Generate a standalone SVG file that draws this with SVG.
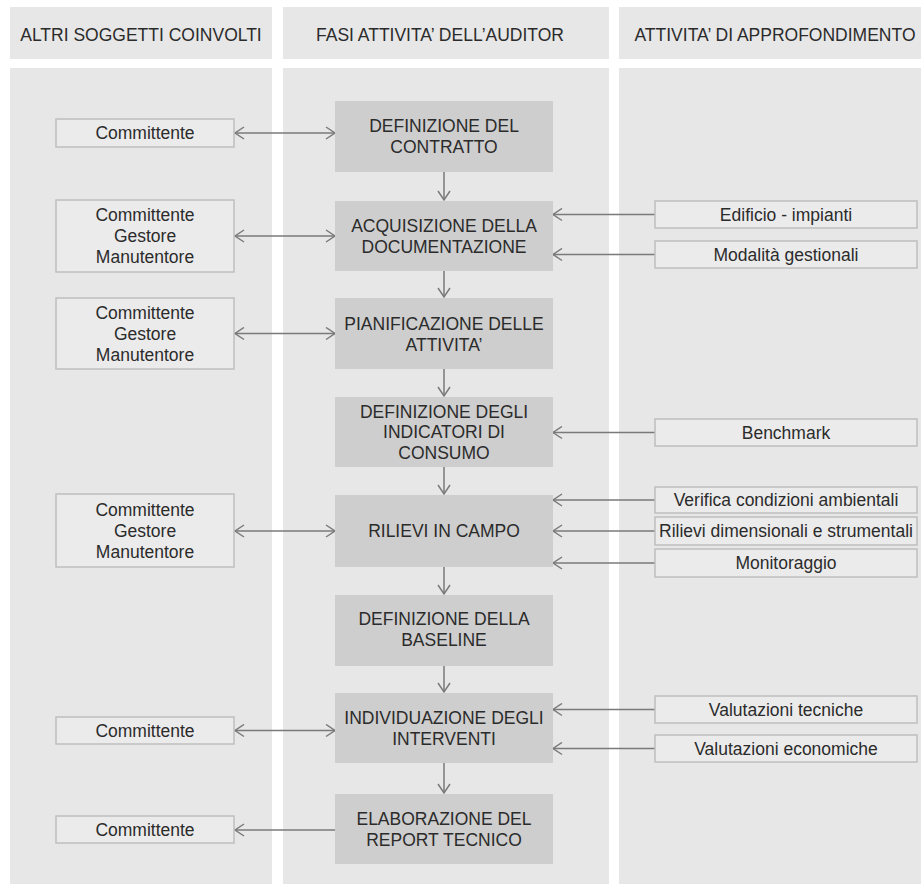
<svg xmlns="http://www.w3.org/2000/svg" width="923" height="886" viewBox="0 0 923 886">
<style>
text{font-family:"Liberation Sans",Arial,sans-serif;font-size:17.5px;fill:#2b2b2b;text-anchor:middle}
.panel{fill:#e7e7e7}
.node{fill:#cecece}
.box{fill:#ebebeb;stroke:#bfbfbf;stroke-width:1.5}
.con{stroke:#7a7a7a;stroke-width:1.5;fill:none}
</style>
<defs>
<marker id="ah" markerWidth="12" markerHeight="14" refX="10" refY="7" orient="auto-start-reverse" markerUnits="userSpaceOnUse">
<path d="M1,1 L10,7 L1,13" fill="none" stroke="#7a7a7a" stroke-width="1.5"/>
</marker>
</defs>
<rect width="923" height="886" fill="#ffffff"/>
<g id="headers">
<rect class="panel" x="10" y="7" width="262" height="52"/>
<rect class="panel" x="283" y="7" width="326" height="52"/>
<rect class="panel" x="619" y="7" width="302" height="52"/>
<text x="141" y="41">ALTRI SOGGETTI COINVOLTI</text>
<text x="440" y="41">FASI ATTIVITA’ DELL’AUDITOR</text>
<text x="775" y="41">ATTIVITA’ DI APPROFONDIMENTO</text>
</g>
<g id="columns">
<rect class="panel" x="10" y="68" width="262" height="816"/>
<rect class="panel" x="283" y="68" width="326" height="816"/>
<rect class="panel" x="619" y="68" width="302" height="816"/>
</g>
<g id="connectors">
<line class="con" x1="444" y1="172" x2="444" y2="200" marker-end="url(#ah)"/>
<line class="con" x1="444" y1="271" x2="444" y2="297" marker-end="url(#ah)"/>
<line class="con" x1="444" y1="369" x2="444" y2="396" marker-end="url(#ah)"/>
<line class="con" x1="444" y1="467" x2="444" y2="494" marker-end="url(#ah)"/>
<line class="con" x1="444" y1="567" x2="444" y2="594" marker-end="url(#ah)"/>
<line class="con" x1="444" y1="666" x2="444" y2="692" marker-end="url(#ah)"/>
<line class="con" x1="444" y1="763" x2="444" y2="793" marker-end="url(#ah)"/>
<line class="con" x1="235" y1="133" x2="335" y2="133" marker-start="url(#ah)" marker-end="url(#ah)"/>
<line class="con" x1="235" y1="236" x2="335" y2="236" marker-start="url(#ah)" marker-end="url(#ah)"/>
<line class="con" x1="235" y1="333.5" x2="335" y2="333.5" marker-start="url(#ah)" marker-end="url(#ah)"/>
<line class="con" x1="235" y1="531" x2="335" y2="531" marker-start="url(#ah)" marker-end="url(#ah)"/>
<line class="con" x1="235" y1="730.5" x2="335" y2="730.5" marker-start="url(#ah)" marker-end="url(#ah)"/>
<line class="con" x1="335" y1="830" x2="235" y2="830" marker-end="url(#ah)"/>
<line class="con" x1="655" y1="214.5" x2="553" y2="214.5" marker-end="url(#ah)"/>
<line class="con" x1="655" y1="254.5" x2="553" y2="254.5" marker-end="url(#ah)"/>
<line class="con" x1="655" y1="432.5" x2="553" y2="432.5" marker-end="url(#ah)"/>
<line class="con" x1="655" y1="500" x2="553" y2="500" marker-end="url(#ah)"/>
<line class="con" x1="655" y1="531" x2="553" y2="531" marker-end="url(#ah)"/>
<line class="con" x1="655" y1="563" x2="553" y2="563" marker-end="url(#ah)"/>
<line class="con" x1="655" y1="709.5" x2="553" y2="709.5" marker-end="url(#ah)"/>
<line class="con" x1="655" y1="748.5" x2="553" y2="748.5" marker-end="url(#ah)"/>
</g>
<g id="n1"><rect class="node" x="335" y="101" width="218" height="71"/><text x="444" y="132">DEFINIZIONE DEL</text><text x="444" y="153">CONTRATTO</text></g>
<g id="n2"><rect class="node" x="335" y="201" width="218" height="70"/><text x="444" y="232">ACQUISIZIONE DELLA</text><text x="444" y="253">DOCUMENTAZIONE</text></g>
<g id="n3"><rect class="node" x="335" y="298" width="218" height="71"/><text x="444" y="330">PIANIFICAZIONE DELLE</text><text x="444" y="351">ATTIVITA’</text></g>
<g id="n4"><rect class="node" x="335" y="397" width="218" height="70"/><text x="444" y="418">DEFINIZIONE DEGLI</text><text x="444" y="438">INDICATORI DI</text><text x="444" y="459">CONSUMO</text></g>
<g id="n5"><rect class="node" x="335" y="495" width="218" height="72"/><text x="444" y="537">RILIEVI IN CAMPO</text></g>
<g id="n6"><rect class="node" x="335" y="595" width="218" height="71"/><text x="444" y="625">DEFINIZIONE DELLA</text><text x="444" y="646">BASELINE</text></g>
<g id="n7"><rect class="node" x="335" y="693" width="218" height="70"/><text x="444" y="724">INDIVIDUAZIONE DEGLI</text><text x="444" y="745">INTERVENTI</text></g>
<g id="n8"><rect class="node" x="335" y="794" width="218" height="70"/><text x="444" y="825">ELABORAZIONE DEL</text><text x="444" y="846">REPORT TECNICO</text></g>
<g id="l1"><rect class="box" x="56" y="119" width="178" height="28"/><text x="145" y="139">Committente</text></g>
<g id="l2"><rect class="box" x="56" y="200" width="178" height="72"/><text x="145" y="221">Committente</text><text x="145" y="242">Gestore</text><text x="145" y="263">Manutentore</text></g>
<g id="l3"><rect class="box" x="56" y="298" width="178" height="71"/><text x="145" y="319">Committente</text><text x="145" y="340">Gestore</text><text x="145" y="361">Manutentore</text></g>
<g id="l4"><rect class="box" x="56" y="494" width="178" height="73"/><text x="145" y="516">Committente</text><text x="145" y="537">Gestore</text><text x="145" y="558">Manutentore</text></g>
<g id="l5"><rect class="box" x="56" y="717" width="178" height="27"/><text x="145" y="737">Committente</text></g>
<g id="l6"><rect class="box" x="56" y="816" width="178" height="27"/><text x="145" y="836">Committente</text></g>
<g id="r1"><rect class="box" x="655" y="201" width="262" height="27"/><text x="786" y="221">Edificio - impianti</text></g>
<g id="r2"><rect class="box" x="655" y="241" width="262" height="27"/><text x="786" y="261">Modalità gestionali</text></g>
<g id="r3"><rect class="box" x="655" y="419" width="262" height="27"/><text x="786" y="439">Benchmark</text></g>
<g id="r4"><rect class="box" x="655" y="487" width="262" height="26"/><text x="786" y="506">Verifica condizioni ambientali</text></g>
<g id="r5"><rect class="box" x="655" y="517" width="262" height="28"/><text x="786" y="537">Rilievi dimensionali e strumentali</text></g>
<g id="r6"><rect class="box" x="655" y="549" width="262" height="28"/><text x="786" y="569">Monitoraggio</text></g>
<g id="r7"><rect class="box" x="655" y="696" width="262" height="27"/><text x="786" y="716">Valutazioni tecniche</text></g>
<g id="r8"><rect class="box" x="655" y="735" width="262" height="27"/><text x="786" y="755">Valutazioni economiche</text></g>
</svg>
